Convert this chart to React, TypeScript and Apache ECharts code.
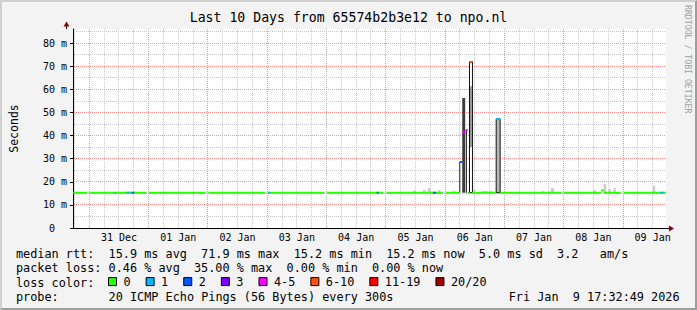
import React, { useEffect, useRef } from 'react';
import * as echarts from 'echarts';

const W = 697;
const H = 310;
const MONO = "'DejaVu Sans Mono', monospace";

// x axis in hours from 31 Dec 00:00 (local); window ends Fri Jan 9 17:32:49
const X_MIN = -6.6;
const X_MAX = 233.4;
const Y_MAX = 86.2;
const GRID = { left: 66, top: 29, width: 600, height: 199 };

const DAY_LABELS = ['31 Dec', '01 Jan', '02 Jan', '03 Jan', '04 Jan', '05 Jan', '06 Jan', '07 Jan', '08 Jan', '09 Jan'];
const DAY_LABEL_HOURS = [12, 36, 60, 84, 108, 132, 156, 180, 204, 228];
const Y_TICKS = [0, 10, 20, 30, 40, 50, 60, 70, 80];

const LOSS_NAMES = ['0', '1', '2', '3', '4-5', '6-10', '11-19', '20/20'];
const LOSS_COLORS = ['#26ff00', '#00b8ff', '#0059ff', '#7e00ff', '#ff00ff', '#ff5500', '#ff0000', '#a10000'];

// median rtt segments [startHour, endHour, ms] for each loss class
const MEDIAN_LOSS_0 = [
  [-6.5, -0.93, 15.3], [0.15, 23.07, 15.3], [24.15, 47.07, 15.3], [48.15, 71.07, 15.3],
  [72.27, 95.07, 15.3], [96.15, 119.07, 15.3], [120.27, 143.07, 15.3], [144.15, 150.0, 15.3],
  [153.07, 153.87, 15.3], [154.95, 164.67, 15.3], [166.27, 191.07, 15.3], [192.15, 207.07, 15.3],
  [207.07, 208.27, 16.2], [208.27, 215.07, 15.3], [216.27, 233.3, 15.3],
];
const MEDIAN_LOSS_1 = [[10.3, 10.8, 15.3], [15.1, 16.4, 15.3], [72.4, 73.1, 15.3], [231.1, 232.3, 15.3], [164.67, 166.27, 47.2]];
const MEDIAN_LOSS_2 = [[17.1, 18.2, 15.3], [116.4, 117.1, 15.3], [139.1, 140.3, 15.3], [150.0, 150.9, 28.6]];
const MEDIAN_LOSS_3: number[][] = [];
const MEDIAN_LOSS_4_5 = [[150.9, 152.3, 41.5], [152.3, 153.1, 42.4]];
const MEDIAN_LOSS_6_10 = [[153.87, 154.95, 71.9]];
const MEDIAN_LOSS_11_19: number[][] = [];
const MEDIAN_LOSS_20: number[][] = [];
const MEDIAN_BY_LOSS = [MEDIAN_LOSS_0, MEDIAN_LOSS_1, MEDIAN_LOSS_2, MEDIAN_LOSS_3, MEDIAN_LOSS_4_5, MEDIAN_LOSS_6_10, MEDIAN_LOSS_11_19, MEDIAN_LOSS_20];

// light smoke [startHour, endHour, lowMs, highMs]
const SMOKE_LIGHT = [
  [131.07, 132.15, 15.3, 16.2], [135.07, 136.15, 15.3, 16.5], [137.07, 138.15, 15.3, 17.3],
  [141.07, 142.15, 15.3, 16.4], [147.07, 148.15, 15.3, 16.0], [155.07, 156.15, 15.3, 16.5],
  [159.07, 161.07, 15.3, 16.0], [161.87, 163.07, 15.3, 16.0], [183.07, 184.15, 15.3, 16.0],
  [186.8, 188.15, 15.3, 17.3], [204.15, 205.07, 15.3, 16.4], [208.15, 209.2, 15.3, 19.0],
  [210.15, 211.07, 15.3, 16.9], [212.15, 213.07, 15.3, 17.3], [228.15, 229.07, 15.3, 18.3],
];
// heavy smoke on 06 Jan [startHour, endHour, lowMs, highMs]
const SMOKE_DARK = [
  [149.73, 150.13, 15.3, 28.6],
  [150.93, 152.13, 15.3, 56.3],
  [152.4, 152.8, 15.3, 42.4],
  [153.87, 155.07, 15.3, 72.0],
  [154.27, 154.67, 35.0, 61.4],
  [164.67, 166.27, 15.3, 47.2],
];
const SMOKE_DARK_FILL = ['#222222', '#3d3d3d', '#111111', '#ffffff', '#3d3d3d', '#b8b8b8'];
const SMOKE_DARK_STROKE = ['', '', '', '#111111', '', '#111111'];

const CW = 7.12; // legend char width
const LX = 16;
const LEGEND_LINES: { y: number; parts: [number, string][] }[] = [
  { y: 254.3, parts: [[0, 'median rtt:'], [13, '15.9 ms avg'], [26, '71.9 ms max'], [39, '15.2 ms min'], [52, '15.2 ms now'], [65, '5.0 ms sd'], [76, '3.2'], [82, 'am/s']] },
  { y: 268.4, parts: [[0, 'packet loss:'], [13, '0.46 % avg'], [25, '35.00 % max'], [38, '0.00 % min'], [50, '0.00 % now']] },
  { y: 282.6, parts: [[0, 'loss color:']] },
  { y: 296.7, parts: [[0, 'probe:'], [13, '20 ICMP Echo Pings (56 Bytes) every 300s'], [69.2, 'Fri Jan'], [78.2, '9 17:32:49 2026']] },
];

const MINOR_GRID = '#c8c8c8';
const MAJOR_GRID = '#ff9090';

function segData(segs: number[][]) {
  const out: any[] = [];
  segs.forEach(([a, b, v]) => {
    out.push([a, v], [b, v], [b, '-']);
  });
  return out;
}

function buildOption() {
  // grid line positions: [value, isMajor]
  const vLines: number[][] = [];
  for (let h = -6; h < X_MAX; h += 6) vLines.push([h, h % 24 === 0 ? 1 : 0]);
  const hLines: number[][] = [];
  for (let v = 5; v < Y_MAX; v += 5) hLines.push([v, v % 10 === 0 ? 1 : 0]);
  // draw minor first, then major
  vLines.sort((a, b) => a[1] - b[1]);
  hLines.sort((a, b) => a[1] - b[1]);

  const crisp = (p: number) => Math.floor(p) + 0.5;

  const texts: any[] = [];
  LEGEND_LINES.forEach((ln) => {
    ln.parts.forEach(([idx, t]) => {
      texts.push({
        type: 'text',
        x: LX + idx * CW,
        y: ln.y,
        z: 100,
        style: { text: t, fill: '#000', font: `11.83px ${MONO}`, textVerticalAlign: 'middle', textAlign: 'left' },
      });
    });
  });

  const gx0 = GRID.left;
  const gx1 = GRID.left + GRID.width;
  const gy0 = GRID.top;
  const gy1 = GRID.top + GRID.height;

  const graphic: any[] = [
    ...texts,
    {
      type: 'text', x: 687.5, y: 5, rotation: -Math.PI / 2, z: 100,
      style: { text: 'RRDTOOL / TOBI OETIKER', fill: '#a0a0a0', font: `8.2px ${MONO}`, textAlign: 'left', textVerticalAlign: 'middle' },
    },
    { type: 'line', z: 100, shape: { x1: gx0 + 0.5, y1: gy0, x2: gx0 + 0.5, y2: gy0 - 3 }, style: { stroke: '#000', lineWidth: 1 } },
    { type: 'polygon', z: 101, shape: { points: [[gx0 + 0.5, gy0 - 7.5], [gx0 - 2.5, gy0 - 2.5], [gx0 + 3.5, gy0 - 2.5]] }, style: { fill: '#8b0000' } },
    { type: 'line', z: 100, shape: { x1: gx1, y1: gy1 + 0.5, x2: gx1 + 3, y2: gy1 + 0.5 }, style: { stroke: '#000', lineWidth: 1 } },
    { type: 'polygon', z: 101, shape: { points: [[gx1 + 8, gy1 + 0.5], [gx1 + 3, gy1 - 2.5], [gx1 + 3, gy1 + 3.5]] }, style: { fill: '#8b0000' } },
  ];

  const lossSeries = LOSS_NAMES.map((name, i) => ({
    name,
    type: 'line',
    data: segData(MEDIAN_BY_LOSS[i]),
    showSymbol: false,
    symbol: 'none',
    connectNulls: false,
    silent: true,
    z: i === 0 ? 4 : 5,
    color: LOSS_COLORS[i],
    itemStyle: { color: LOSS_COLORS[i] },
    lineStyle: { color: LOSS_COLORS[i], width: 2, cap: 'butt' },
    emphasis: { disabled: true },
  }));

  return {
    animation: false,
    backgroundColor: 'transparent',
    title: {
      text: 'Last 10 Days from 65574b2b3e12 to npo.nl',
      left: 'center',
      top: 11,
      padding: 0,
      textStyle: { fontFamily: MONO, fontSize: 13.2, fontWeight: 'normal', color: '#000' },
    },
    legend: {
      data: LOSS_NAMES,
      left: 108,
      top: 275.6,
      padding: 0,
      icon: 'rect',
      itemWidth: 8,
      itemHeight: 8,
      itemGap: 15,
      selectedMode: false,
      itemStyle: { borderColor: '#000', borderWidth: 1 },
      textStyle: { fontFamily: MONO, fontSize: 11.83, color: '#000', padding: [0, 0, 0, 2] },
    },
    grid: { ...GRID, show: true, backgroundColor: '#ffffff', borderWidth: 0, containLabel: false },
    xAxis: {
      type: 'value',
      min: X_MIN,
      max: X_MAX,
      axisLine: { show: true, onZero: false, lineStyle: { color: '#000', width: 1 } },
      axisTick: { show: false },
      splitLine: { show: false },
      axisLabel: {
        customValues: DAY_LABEL_HOURS,
        formatter: (v: number) => DAY_LABELS[Math.round((v - 12) / 24)] ?? '',
        margin: 4,
        fontFamily: MONO,
        fontSize: 10,
        color: '#000',
        hideOverlap: false,
      },
    },
    yAxis: {
      type: 'value',
      min: 0,
      max: Y_MAX,
      interval: 10,
      name: 'Seconds',
      nameLocation: 'middle',
      nameGap: 53,
      nameRotate: 90,
      nameTextStyle: { fontFamily: MONO, fontSize: 11.5, color: '#000' },
      axisLine: { show: true, onZero: false, lineStyle: { color: '#000', width: 1 } },
      axisTick: { show: true, length: 3, customValues: Y_TICKS, lineStyle: { color: '#000' } },
      splitLine: { show: false },
      axisLabel: {
        customValues: Y_TICKS,
        formatter: (v: number) => (v === 0 ? '{z|0}' : `${v} m`),
        margin: 6,
        fontFamily: MONO,
        fontSize: 10,
        color: '#000',
        rich: { z: { padding: [0, 12, 0, 0], fontFamily: MONO, fontSize: 10, color: '#000' } },
      },
    },
    graphic,
    series: [
      {
        type: 'custom',
        silent: true,
        z: 1,
        clip: false,
        data: vLines,
        encode: { x: 0 },
        renderItem: (params: any, api: any) => {
          const h = api.value(0);
          const major = api.value(1) === 1;
          const pTop = api.coord([h, Y_MAX]);
          const pBot = api.coord([h, 0]);
          const x = crisp(pTop[0]);
          return {
            type: 'line',
            shape: { x1: x, y1: pBot[1], x2: x, y2: pTop[1] },
            style: { stroke: major ? MAJOR_GRID : MINOR_GRID, lineWidth: 1, lineDash: [1, 1] },
          };
        },
      },
      {
        type: 'custom',
        silent: true,
        z: 1,
        clip: false,
        data: hLines,
        encode: { y: 0 },
        renderItem: (params: any, api: any) => {
          const v = api.value(0);
          const major = api.value(1) === 1;
          const pL = api.coord([X_MIN, v]);
          const pR = api.coord([X_MAX, v]);
          const y = crisp(pL[1]);
          return {
            type: 'line',
            shape: { x1: pL[0] + 1, y1: y, x2: pR[0], y2: y },
            style: { stroke: major ? MAJOR_GRID : MINOR_GRID, lineWidth: 1, lineDash: [1, 1] },
          };
        },
      },
      {
        type: 'custom',
        silent: true,
        z: 2,
        data: SMOKE_LIGHT,
        encode: { x: [0, 1], y: [2, 3] },
        renderItem: (params: any, api: any) => {
          const p0 = api.coord([api.value(0), api.value(3)]);
          const p1 = api.coord([api.value(1), api.value(2)]);
          return { type: 'rect', shape: { x: p0[0], y: p0[1], width: p1[0] - p0[0], height: p1[1] - p0[1] }, style: { fill: '#cccccc' } };
        },
      },
      {
        type: 'custom',
        silent: true,
        z: 3,
        data: SMOKE_DARK,
        encode: { x: [0, 1], y: [2, 3] },
        renderItem: (params: any, api: any) => {
          const i = params.dataIndex;
          const p0 = api.coord([api.value(0), api.value(3)]);
          const p1 = api.coord([api.value(1), api.value(2)]);
          const stroke = SMOKE_DARK_STROKE[i];
          return {
            type: 'rect',
            shape: { x: p0[0], y: p0[1], width: p1[0] - p0[0], height: p1[1] - p0[1] },
            style: { fill: SMOKE_DARK_FILL[i], stroke: stroke || undefined, lineWidth: stroke ? 1 : 0 },
          };
        },
      },
      ...lossSeries,
    ],
  };
}

export default function App() {
  const ref = useRef<HTMLDivElement>(null);
  useEffect(() => {
    if (!ref.current) return;
    const chart = echarts.init(ref.current, undefined, { renderer: 'svg', width: W, height: H });
    chart.setOption(buildOption() as any);
    return () => chart.dispose();
  }, []);
  return (
    <div
      style={{
        position: 'absolute', left: 0, top: 0, width: W, height: H, boxSizing: 'border-box',
        background: '#f3f3f3', borderTop: '2px solid #cfcfcf', borderLeft: '2px solid #cfcfcf',
        borderRight: '2px solid #9e9e9e', borderBottom: '2px solid #9e9e9e', overflow: 'hidden',
      }}
    >
      <div ref={ref} style={{ position: 'absolute', left: -2, top: -2, width: W, height: H }} />
    </div>
  );
}
